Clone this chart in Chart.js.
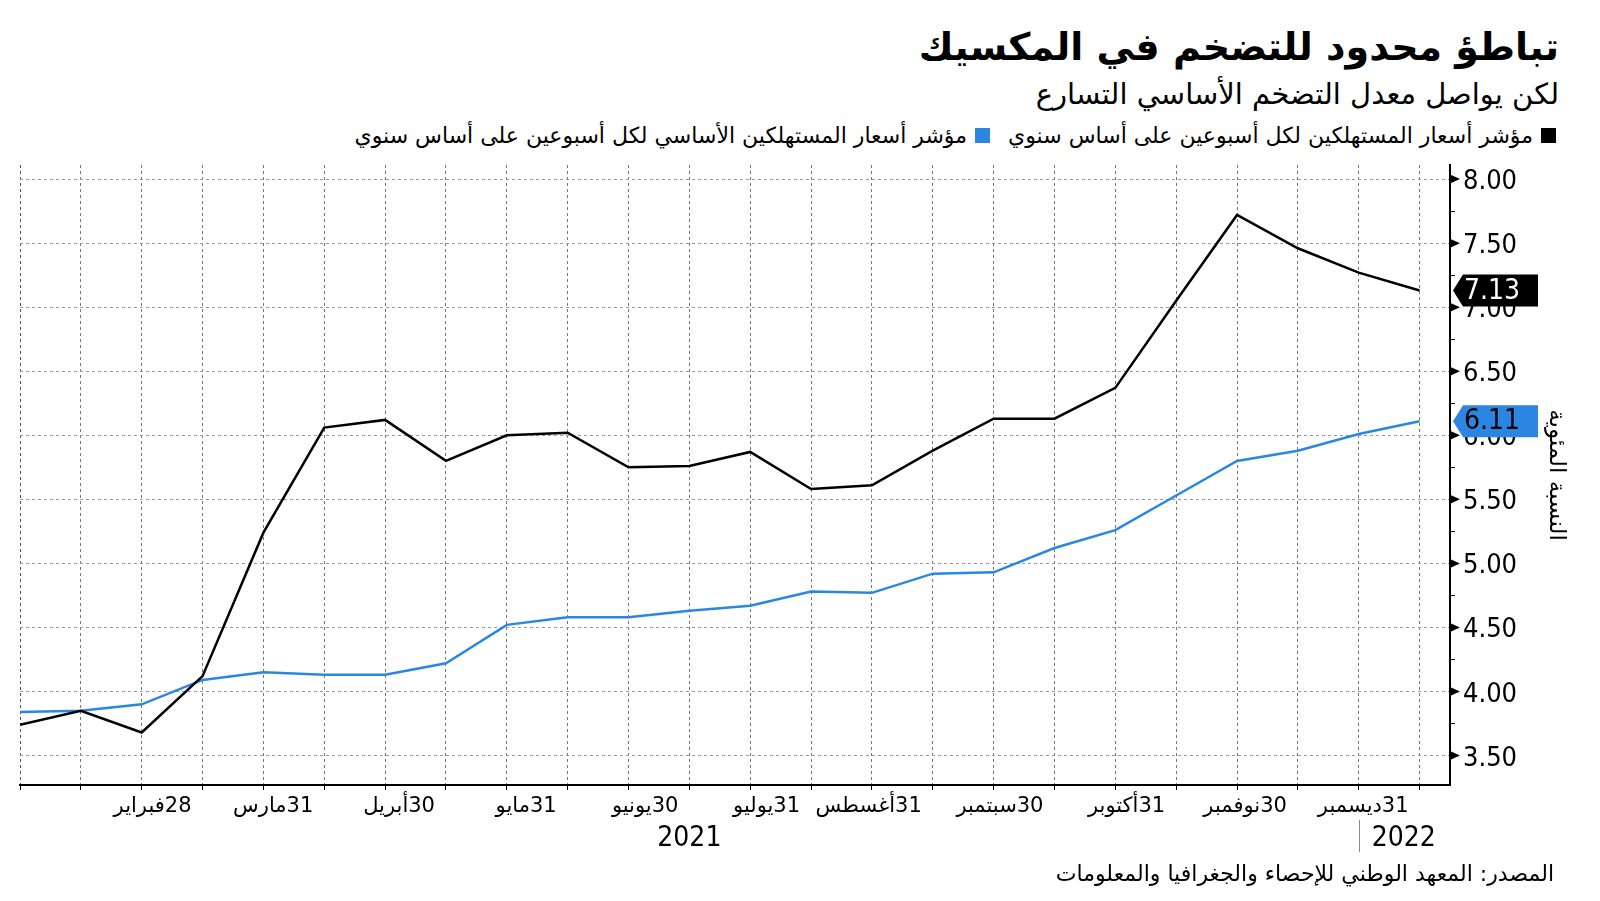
<!DOCTYPE html>
<html lang="ar">
<head>
<meta charset="utf-8">
<script src="https://cdn.jsdelivr.net/npm/chart.js@4.4.0/dist/chart.umd.min.js"></script>
<style>
  body { margin: 0; background: #fff; width: 1600px; height: 901px; overflow: hidden; position: relative; font-family: "DejaVu Sans", sans-serif; }
  #chart { position: absolute; left: 0; top: 0; direction: rtl; }
  .txt { position: absolute; direction: rtl; text-align: right; white-space: nowrap; color: #000; }
  #title { right: 41px; top: 22px; font-size: 38px; line-height: 50px; font-weight: bold; }
  #subtitle { right: 41px; top: 74px; font-size: 29px; line-height: 40px; }
  #legend { right: 44px; top: 123px; font-size: 22px; line-height: 26px; }
  #legend .sq { display: inline-block; width: 15px; height: 15px; margin-left: 8px; vertical-align: 0px; }
  #legend .item { margin-left: 18px; }
  #source { right: 46px; top: 861px; font-size: 22px; line-height: 26px; }
</style>
</head>
<body>
<div id="title" class="txt">تباطؤ محدود للتضخم في المكسيك</div>
<div id="subtitle" class="txt">لكن يواصل معدل التضخم الأساسي التسارع</div>
<div id="legend" class="txt"><span class="item"><span class="sq" style="background:#000"></span>مؤشر أسعار المستهلكين لكل أسبوعين على أساس سنوي</span><span class="item"><span class="sq" style="background:#2b86e2"></span>مؤشر أسعار المستهلكين الأساسي لكل أسبوعين  على أساس سنوي</span></div>
<canvas id="chart" width="1600" height="901"></canvas>
<div id="source" class="txt">المصدر: المعهد الوطني للإحصاء والجغرافيا والمعلومات</div>
<script>
// نصف شهري 2021
var headline = [3.74, 3.85, 3.68, 4.12, 5.24, 6.06, 6.12, 5.80, 6.00, 6.02, 5.75, 5.76,
                5.87, 5.58, 5.61, 5.88, 6.13, 6.13, 6.37, 7.05, 7.72, 7.46, 7.27, 7.13];
var core = [3.84, 3.85, 3.90, 4.09, 4.15, 4.13, 4.13, 4.22, 4.52, 4.58, 4.58, 4.63,
            4.67, 4.78, 4.77, 4.92, 4.93, 5.12, 5.26, 5.53, 5.80, 5.88, 6.01, 6.11];
var tickLabels = ['', '', '', '28فبراير', '', '31مارس', '', '30أبريل', '', '31مايو', '', '30يونيو',
                  '', '31يوليو', '', '31أغسطس', '', '30سبتمبر', '', '31أكتوبر', '', '30نوفمبر', '', '31ديسمبر'];
var yearLabels = ['2021', '2022'];
var yearAt = [11, 22.74];
var yearBreak = 22;

var numFont = '"DejaVu Sans Condensed", "DejaVu Sans", sans-serif';
var arFont = '"DejaVu Sans", sans-serif';

function isMajor(v) {
  return Math.abs(v * 2 - Math.round(v * 2)) < 1e-6;
}

var extras = {
  id: 'extras',
  afterDraw: function(chart) {
    var ctx = chart.ctx, x = chart.scales.x, y = chart.scales.y;
    var axisX = chart.chartArea.right;
    ctx.save();
    // مثلثات التدريج
    ctx.fillStyle = '#000';
    y.ticks.forEach(function(t) {
      if (!isMajor(t.value)) return;
      var py = y.getPixelForValue(t.value);
      ctx.beginPath();
      ctx.moveTo(axisX, py - 4.5);
      ctx.lineTo(axisX + 10, py);
      ctx.lineTo(axisX, py + 4.5);
      ctx.closePath();
      ctx.fill();
    });
    // السنوات
    ctx.font = '28px ' + numFont;
    ctx.textAlign = 'center';
    ctx.textBaseline = 'middle';
    yearLabels.forEach(function(lbl, i) {
      ctx.fillText(lbl, x.getPixelForValue(yearAt[i]), 839);
    });
    var bx = Math.round(x.getPixelForValue(yearBreak)) + 0.5;
    ctx.strokeStyle = '#888';
    ctx.lineWidth = 1;
    ctx.beginPath();
    ctx.moveTo(bx, 820);
    ctx.lineTo(bx, 852);
    ctx.stroke();
    // آخر قيمة
    chart.data.datasets.forEach(function(ds) {
      var v = ds.data[ds.data.length - 1].y;
      var py = y.getPixelForValue(v);
      var x0 = axisX + 3;
      ctx.fillStyle = ds.borderColor;
      ctx.beginPath();
      ctx.moveTo(x0, py);
      ctx.lineTo(x0 + 10, py - 16);
      ctx.lineTo(x0 + 85, py - 16);
      ctx.lineTo(x0 + 85, py + 16);
      ctx.lineTo(x0 + 10, py + 16);
      ctx.closePath();
      ctx.fill();
      ctx.fillStyle = ds.badgeText;
      ctx.font = '28px ' + numFont;
      ctx.textAlign = 'left';
      ctx.textBaseline = 'middle';
      ctx.fillText(v.toFixed(2), x0 + 11, py + 1);
    });
    ctx.restore();
  }
};

var ctx = document.getElementById('chart');
var chart = new Chart(ctx, {
  type: 'line',
  data: {
    datasets: [
      {
        label: 'مؤشر أسعار المستهلكين لكل أسبوعين على أساس سنوي',
        data: headline.map(function(v, i) { return {x: i, y: v}; }),
        borderColor: '#000',
        badgeText: '#fff',
        borderWidth: 2.5,
        pointRadius: 0,
        tension: 0
      },
      {
        label: 'مؤشر أسعار المستهلكين الأساسي لكل أسبوعين على أساس سنوي',
        data: core.map(function(v, i) { return {x: i, y: v}; }),
        borderColor: '#2b86e2',
        badgeText: '#000',
        borderWidth: 2.5,
        pointRadius: 0,
        tension: 0
      }
    ]
  },
  options: {
    responsive: false,
    animation: false,
    layout: { padding: { top: 165, left: 20, right: 0, bottom: 0 } },
    plugins: { legend: { display: false }, tooltip: { enabled: false } },
    scales: {
      x: {
        type: 'linear',
        min: 0,
        max: 23.5,
        afterFit: function(s) { s.height = 116; },
        ticks: {
          stepSize: 1,
          includeBounds: false,
          autoSkip: false,
          maxRotation: 0,
          align: 'end',
          labelOffset: -11,
          padding: 4,
          color: '#000',
          font: { family: arFont, size: 21 },
          callback: function(v) { return tickLabels[v] || ''; }
        },
        grid: {
          color: function(c) { return c.index === 0 ? '#555' : '#777'; },
          lineWidth: 1,
          tickColor: '#000',
          tickLength: 5
        },
        border: { display: true, color: '#000', width: 2, dash: [3, 3] }
      },
      y: {
        position: 'right',
        min: 3.27,
        max: 8.11,
        afterFit: function(s) { s.width = 150; },
        ticks: {
          stepSize: 0.25,
          includeBounds: false,
          autoSkip: false,
          padding: 8,
          labelOffset: 3,
          color: '#000',
          font: { family: numFont, size: 27 },
          callback: function(v) { return isMajor(v) ? v.toFixed(2) : ''; }
        },
        grid: {
          color: function(c) { return isMajor(c.tick.value) ? '#9a9a9a' : 'rgba(0,0,0,0)'; },
          lineWidth: 1,
          tickColor: '#000',
          tickLength: 5
        },
        border: { display: true, color: '#000', width: 2, dash: [3, 3] },
        title: {
          display: true,
          text: 'النسبة المئوية',
          color: '#000',
          font: { family: arFont, size: 23 },
          padding: { top: 30, bottom: 0 }
        }
      }
    }
  },
  plugins: [extras]
});
</script>
</body>
</html>
